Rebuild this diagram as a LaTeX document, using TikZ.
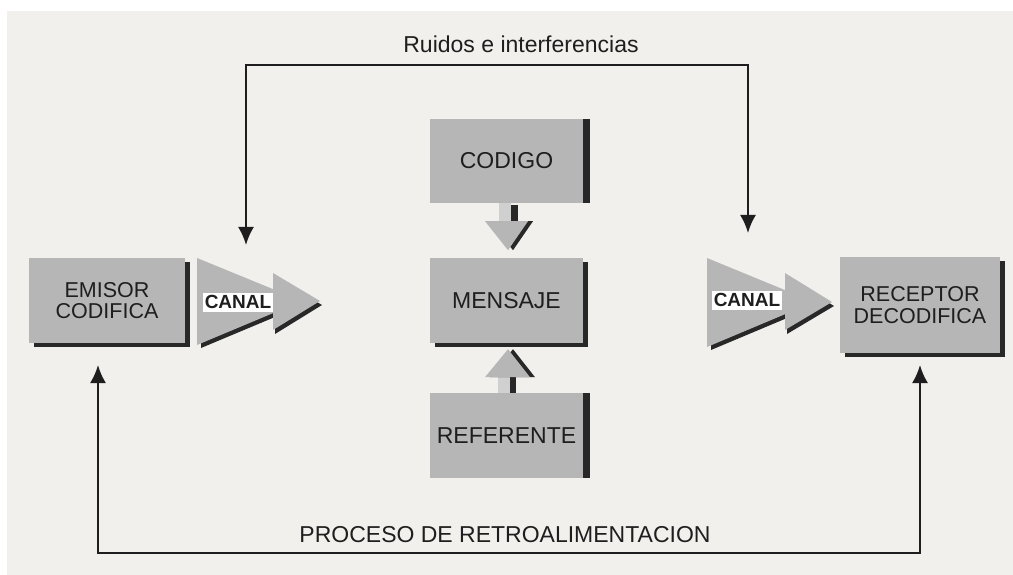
\documentclass[tikz,border=0pt]{standalone}
\usepackage{fontspec}
\setmainfont{Liberation Sans}
\usetikzlibrary{arrows.meta,shadows,calc}
\definecolor{fondo}{RGB}{242,240,237}
\definecolor{grisc}{RGB}{182,182,182}
\definecolor{grisb}{RGB}{208,208,208}
\definecolor{sombra}{RGB}{40,40,40}
\definecolor{tinta}{RGB}{30,30,30}
\tikzset{flechas/.style={line width=2.2pt, draw=tinta, {Latex[length=18pt,width=16pt]}-{Latex[length=18pt,width=16pt]}},
	cajabase/.style={fill=grisc, text=tinta, inner sep=0pt, minimum width=153pt, minimum height=85pt, align=center},
	caja/.style={cajabase, drop shadow={shadow xshift=5pt, shadow yshift=-4pt, fill=sombra, opacity=1}},
	cajalado/.style={cajabase, drop shadow={shadow xshift=7pt, shadow yshift=0pt, fill=sombra, opacity=1}},
	canal/.style={fill=white, text=tinta, font=\fontsize{19}{21}\selectfont\bfseries, inner xsep=2pt, inner ysep=0pt, minimum height=19pt}}

\begin{document}
\begin{tikzpicture}[x=1pt,y=-1pt,font=\fontsize{23}{26}\selectfont]
	\useasboundingbox (0,0) rectangle (1013,575);
	\fill[white] (0,0) rectangle (1013,575);
	\fill[fondo] (7,11) rectangle (1013,575);

	% cajas
	\node[caja, minimum width=156pt, font=\fontsize{21.5}{21}\selectfont] (emisor) at (107,300.5) {EMISOR\\CODIFICA};
	\node[cajalado, minimum height=84pt] (codigo) at (506.5,161) {CODIGO};
	\node[caja] (mensaje) at (506.5,300.5) {MENSAJE};
	\node[cajalado] (referente) at (506.5,435.5) {REFERENTE};
	\node[caja, minimum width=160pt, minimum height=96pt, font=\fontsize{21.5}{22}\selectfont] (receptor) at (920,305) {RECEPTOR\\DECODIFICA};

	% canal del emisor
	\fill[sombra] (201,261) -- (201,348) -- (306,304) -- cycle;
	\fill[grisc] (197,258) -- (197,345) -- (302,301) -- cycle;
	\fill[sombra] (275,277) -- (275,334) -- (322,305) -- cycle;
	\fill[grisc] (273,273) -- (273,330) -- (320,301) -- cycle;
	\node[canal] (canalA) at (238,302) {CANAL};

	% canal del receptor
	\fill[sombra] (711,261) -- (711,350) -- (818,305) -- cycle;
	\fill[grisc] (707,258) -- (707,347) -- (814,302) -- cycle;
	\fill[sombra] (787,277) -- (787,334) -- (834,306) -- cycle;
	\fill[grisc] (785,273) -- (785,330) -- (832,302) -- cycle;
	\node[canal] (canalB) at (747,300) {CANAL};

	% codigo -> mensaje
	\fill[sombra] ($(codigo.south)+(4,2)$) rectangle ($(codigo.south)+(11,18)$);
	\fill[grisb] ($(codigo.south)+(-8,0)$) rectangle ($(codigo.south)+(4,19)$);
	\fill[sombra] ($(codigo.south)+(-16.5,18)$) -- ($(codigo.south)+(26.5,18)$) -- ($(codigo.south)+(6.5,47)$) -- cycle;
	\fill[grisc] ($(codigo.south)+(-21.5,18)$) -- ($(codigo.south)+(21.5,18)$) -- ($(codigo.south)+(1.5,47)$) -- cycle;

	% referente -> mensaje
	\fill[sombra] ($(referente.north)+(3.5,-16)$) rectangle ($(referente.north)+(9.5,0)$);
	\fill[grisb] ($(referente.north)+(-8.5,-16)$) rectangle ($(referente.north)+(3.5,0)$);
	\fill[sombra] ($(mensaje.south)+(-16.5,34)$) -- ($(mensaje.south)+(28.5,34)$) -- ($(mensaje.south)+(6.5,6)$) -- cycle;
	\fill[grisc] ($(mensaje.south)+(-21.5,34)$) -- ($(mensaje.south)+(23.5,34)$) -- ($(mensaje.south)+(1.5,6)$) -- cycle;

	% ruidos
	\node[inner sep=0pt, text=tinta] (ruidos) at (521,44) {Ruidos e interferencias};
	\coordinate (ruidoA) at (246,245);
	\coordinate (ruidoB) at (748,233);
	\draw[flechas] (ruidoA) |- (ruidos |- 0,65) -| (ruidoB);

	% retroalimentacion
	\node[inner sep=0pt, text=tinta] (retro) at (505,535) {PROCESO DE RETROALIMENTACION};
	\coordinate (retroA) at (98,365);
	\coordinate (retroB) at (920,365);
	\draw[flechas] (retroA) |- (retro |- 0,553) -| (retroB);
\end{tikzpicture}
\end{document}
